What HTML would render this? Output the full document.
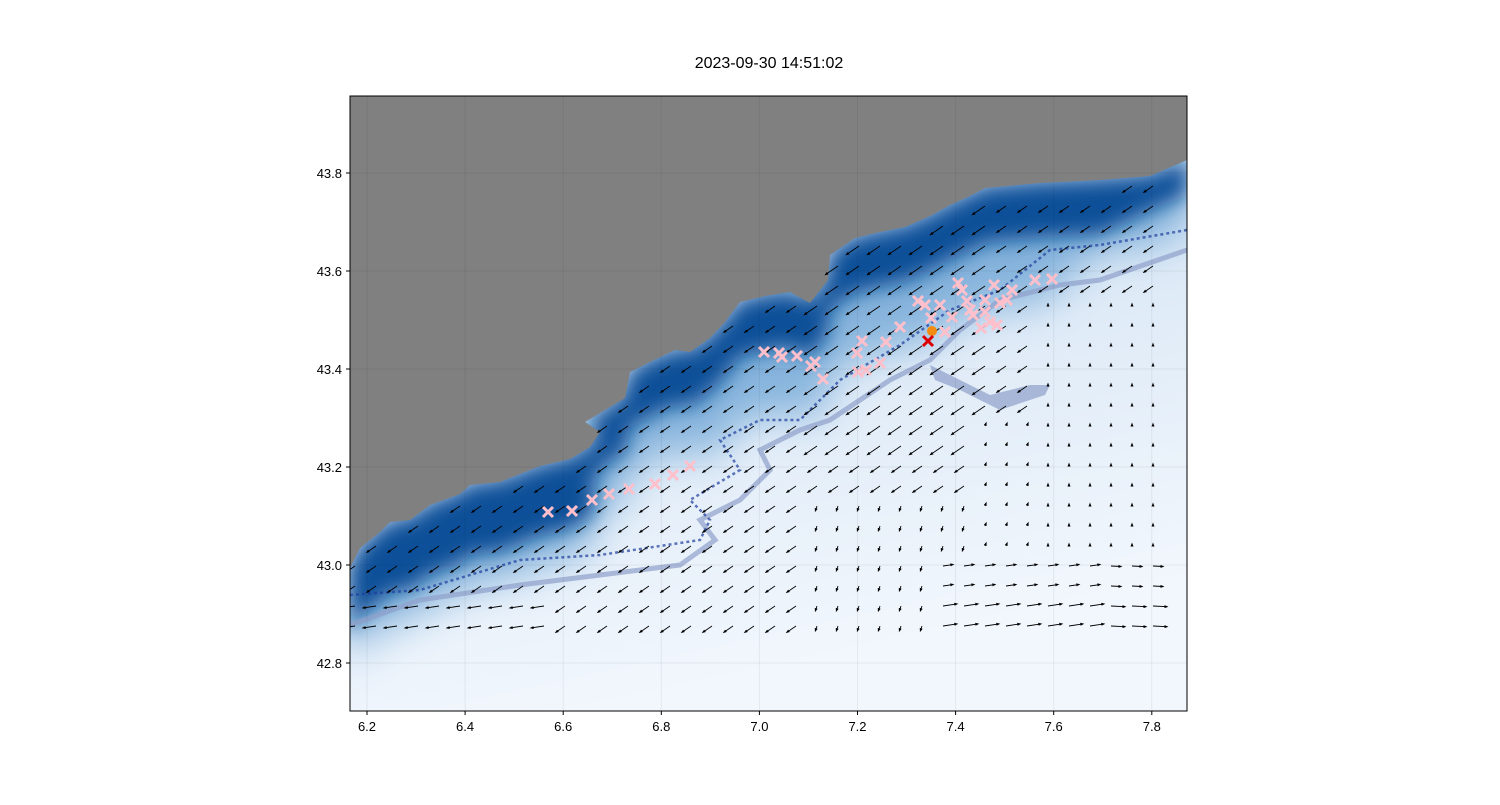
<!DOCTYPE html>
<html><head><meta charset="utf-8"><style>
body{margin:0;background:#fff;width:1500px;height:800px;overflow:hidden;font-family:"Liberation Sans",sans-serif}
</style></head><body>
<svg id="s" width="1500" height="800" xmlns="http://www.w3.org/2000/svg" font-family="Liberation Sans, sans-serif">
<defs>
<clipPath id="c"><rect x="350" y="96" width="837" height="615"/></clipPath>
<filter id="b1"><feGaussianBlur stdDeviation="20"/></filter>
<filter id="b2"><feGaussianBlur stdDeviation="10"/></filter>
<linearGradient id="g" x1="0" y1="0" x2="0.3" y2="1"><stop offset="0" stop-color="#c6dbef"/><stop offset="1" stop-color="#f2f7fd"/></linearGradient>
</defs>
<text x="769" y="68" font-size="16" text-anchor="middle">2023-09-30 14:51:02</text>
<g clip-path="url(#c)" id="map">
<rect x="350" y="96" width="837" height="615" fill="url(#g)"/>
<polygon id="mid" filter="url(#b1)" fill="#6fa6d6" opacity="0.8"/>
<polygon id="dark" filter="url(#b2)" fill="#0d4f98"/>
<path d="M930,365 L960,380 L990,395 L1030,385 L1050,385 L1045,395 L1000,410 L960,390 L935,380 Z" fill="#8e9fcb" opacity="0.7"/>
<path d="M350,625 L420,600 L520,585 L600,575 L680,565 L715,540 L700,520 L740,500 L770,470 L760,450 L800,430 L830,420 L860,400 L890,380 L930,360 L960,330 L1000,300 L1060,285 L1100,280 L1187,250" fill="none" stroke="#8e9fcb" stroke-width="5" opacity="0.7"/>
<path d="M350,595 L420,590 L520,560 L600,555 L700,540 L710,520 L690,500 L740,470 L720,440 L760,420 L800,420 L840,380 L900,345 L950,310 L1000,290 L1050,250 L1100,245 L1187,230" fill="none" stroke="#1f3d9c" stroke-width="2.5" stroke-dasharray="3 3" opacity="0.7"/>
<polygon id="land" fill="#808080"/>
<g id="arr" stroke="#000" stroke-width="0.9" fill="#000"></g>
<g id="mk" stroke="pink" stroke-width="3"></g>
<circle cx="932" cy="331" r="5" fill="#f28c10"/>
<path d="M923,336 L933,346 M933,336 L923,346" stroke="#d00" stroke-width="3"/>
</g>
<g stroke="#000" stroke-opacity="0.06" id="grid"></g>
<rect x="350" y="96" width="837" height="615" fill="none" stroke="#000" stroke-width="1"/>
<g font-size="13" id="ticks"></g>
</svg>
<script>
var ns="http://www.w3.org/2000/svg",S=document.getElementById('s');
function el(t,a,p){var e=document.createElementNS(ns,t);for(var k in a)e.setAttribute(k,a[k]);(p||S).appendChild(e);return e}
var coast=[[350,568],[360,548],[380,532],[390,522],[410,520],[430,505],[460,494],[470,485],[500,482],[540,466],[570,459],[590,447],[600,432],[585,422],[605,410],[625,398],[630,372],[650,362],[675,350],[690,352],[710,338],[725,322],[740,302],[765,296],[790,292],[810,303],[828,280],[830,255],[855,238],[880,232],[905,227],[930,216],[950,205],[970,196],[985,188],[1040,183],[1100,180],[1150,176],[1187,160]];
function cy(x){for(var i=1;i<coast.length;i++){if(x<=coast[i][0]){var a=coast[i-1],b=coast[i];return a[1]+(b[1]-a[1])*(x-a[0])/(b[0]-a[0]);}}return 160}
document.getElementById('land').setAttribute('points',"350,96 1187,96 "+coast.slice().reverse().map(function(p){return p.join(',')}).join(' '));
var dk2=coast.slice().reverse().map(function(p){return p[0]+','+(p[1]+(p[0]<600?70:(p[0]>1100?35:55)))}).join(' ');
document.getElementById('dark').setAttribute('points',coast.map(function(p){return p.join(',')}).join(' ')+' '+dk2);
document.getElementById('mid').setAttribute('points',coast.map(function(p){return p[0]+','+(p[1]-10)}).join(' ')+' '+coast.slice().reverse().map(function(p){return p[0]+','+(p[1]+(p[0]<700?100:(p[0]>1050?70:120)))}).join(' '));
var A=document.getElementById('arr');
for(var x=355;x<1165;x+=21){for(var y=186;y<645;y+=20){if(y<cy(x)+8)continue;var dx,dy,L;
if(y>555&&x>940){dx=1;dy=(x>1100?0.05:-0.15);L=(y>600?14:10)}
else if(y>600&&x<560){dx=-1;dy=0.15;L=13}
else if(x>1040&&y>300){dx=0;dy=-1;L=2}
else if(x>970&&y>420){dx=0.3;dy=-0.8;L=3}
else if(y>500&&x>800){dx=-0.3;dy=0.9;L=5}
else{dx=-0.8;dy=0.55;L=(x>800&&x<1000&&y<450)?15:11}
var n=Math.hypot(dx,dy);dx/=n;dy/=n;var x2=x+dx*L,y2=y+dy*L;
el('line',{x1:x,y1:y,x2:x2,y2:y2},A);
el('polygon',{points:(x2+dx*1.5)+','+(y2+dy*1.5)+' '+(x2-dx*2.5-dy*1.5)+','+(y2-dy*2.5+dx*1.5)+' '+(x2-dx*2.5+dy*1.5)+','+(y2-dy*2.5-dx*1.5),stroke:'none'},A);}}
var M=document.getElementById('mk');
[[548,512],[572,511],[592,500],[609,494],[629,489],[655,484],[673,475],[690,466],[764,352],[779,353],[782,357],[797,356],[811,366],[815,362],[823,379],[857,353],[862,341],[866,370],[858,372],[880,363],[886,342],[900,327],[918,301],[925,305],[931,318],[945,332],[952,317],[958,283],[962,290],[967,301],[973,315],[985,312],[981,328],[990,322],[997,325],[994,285],[1000,303],[1012,290],[1035,280],[1052,279],[1007,300],[985,300],[970,310],[940,305]].forEach(function(p){var x=p[0],y=p[1];el('path',{d:'M'+(x-5)+','+(y-5)+'L'+(x+5)+','+(y+5)+'M'+(x+5)+','+(y-5)+'L'+(x-5)+','+(y+5)},M)});
var T=document.getElementById('ticks'),G=document.getElementById('grid');
for(var i=0;i<9;i++){var x=367+i*98.1;el('line',{x1:x,y1:96,x2:x,y2:711},G);el('line',{x1:x,y1:711,x2:x,y2:715,stroke:'#000'},T);var t=el('text',{x:x,y:731,'text-anchor':'middle'},T);t.textContent=(6.2+i*0.2).toFixed(1);}
for(var j=0;j<6;j++){var y=173+j*98;el('line',{x1:350,y1:y,x2:1187,y2:y},G);el('line',{x1:346,y1:y,x2:350,y2:y,stroke:'#000'},T);var t=el('text',{x:342,y:y+5,'text-anchor':'end'},T);t.textContent=(43.8-j*0.2).toFixed(1);}
</script>
</body></html>
